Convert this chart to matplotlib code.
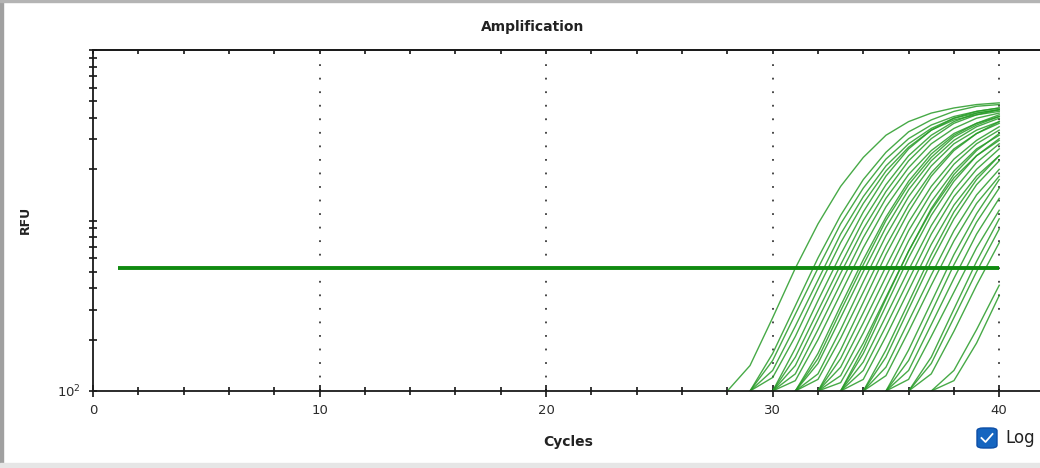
import matplotlib
matplotlib.use("Agg")
import matplotlib.pyplot as plt
from matplotlib.patches import FancyBboxPatch, Rectangle
from matplotlib.ticker import FixedLocator, NullFormatter

# Amplification curves: first cycle of each trace and its RFU readings per cycle
start_cycles = [28,
                29, 29, 29, 29,
                30, 30, 30, 30, 30,
                31, 31, 31, 31, 31,
                32, 32, 32, 32, 32,
                33, 33, 33, 33, 33,
                34, 34, 34, 34,
                35, 35, 35, 35,
                36, 36, 36,
                37, 37]

rfu_curves = [
    [100, 141, 269, 525, 955, 1585, 2344, 3162, 3802, 4266, 4571, 4786, 4898],
    [100, 166, 316, 603, 1072, 1738, 2512, 3311, 3890, 4365, 4677, 4786],
    [100, 151, 282, 525, 955, 1549, 2291, 3020, 3631, 4074, 4365, 4571],
    [100, 132, 240, 447, 832, 1380, 2089, 2818, 3467, 3981, 4266, 4467],
    [100, 120, 209, 398, 741, 1259, 1950, 2692, 3388, 3890, 4169, 4365],
    [100, 178, 339, 631, 1122, 1820, 2630, 3388, 3981, 4365, 4571],
    [100, 158, 295, 550, 1000, 1622, 2399, 3162, 3802, 4266, 4467],
    [100, 141, 263, 490, 891, 1479, 2239, 3020, 3715, 4169, 4467],
    [100, 126, 229, 427, 794, 1349, 2042, 2818, 3467, 3981, 4266],
    [100, 115, 200, 372, 692, 1202, 1862, 2570, 3236, 3715, 4074],
    [100, 166, 316, 589, 1047, 1698, 2455, 3162, 3715, 4169],
    [100, 155, 295, 550, 1000, 1622, 2344, 3090, 3631, 4074],
    [100, 145, 269, 501, 912, 1514, 2239, 2951, 3548, 3981],
    [100, 126, 229, 437, 813, 1380, 2089, 2818, 3388, 3802],
    [100, 117, 204, 380, 708, 1230, 1905, 2630, 3236, 3715],
    [100, 174, 331, 631, 1122, 1820, 2570, 3236, 3802],
    [100, 155, 288, 537, 977, 1585, 2291, 2951, 3548],
    [100, 138, 251, 468, 871, 1445, 2138, 2818, 3388],
    [100, 123, 219, 407, 759, 1288, 1950, 2630, 3162],
    [100, 112, 191, 355, 661, 1148, 1778, 2399, 2951],
    [100, 178, 347, 661, 1175, 1862, 2570, 3236],
    [100, 166, 316, 603, 1072, 1698, 2399, 3020],
    [100, 148, 275, 513, 933, 1514, 2188, 2818],
    [100, 132, 240, 447, 832, 1380, 1995, 2630],
    [100, 117, 209, 389, 724, 1230, 1820, 2399],
    [100, 174, 331, 631, 1122, 1738, 2399],
    [100, 158, 302, 575, 1023, 1622, 2239],
    [100, 138, 257, 479, 871, 1413, 1995],
    [100, 123, 224, 417, 759, 1259, 1820],
    [100, 174, 331, 631, 1096, 1738],
    [100, 151, 288, 550, 977, 1549],
    [100, 132, 245, 457, 832, 1349],
    [100, 117, 209, 380, 692, 1148],
    [100, 158, 302, 575, 1023],
    [100, 145, 269, 501, 891],
    [100, 126, 224, 417, 741],
    [100, 132, 229, 417],
    [100, 115, 191, 363],
]

threshold_rfu = 524
threshold_cycles = [1.1, 40]

x_major = [0, 10, 20, 30, 40]
x_labels = ["0", "10", "20", "30", "40"]
x_minor = [2, 4, 6, 8, 12, 14, 16, 18, 22, 24, 26, 28, 32, 34, 36, 38]

fig = plt.figure(figsize=(10.4, 4.68), dpi=100)
W, H = 1040, 468

# window frame
fig.patches.append(Rectangle((0, 0), 3 / W, 1, transform=fig.transFigure,
                             color="#a0a0a0", zorder=0))
fig.patches.append(Rectangle((0, 0), 1, 5 / H, transform=fig.transFigure,
                             color="#e6e6e6", zorder=0))
fig.patches.append(Rectangle((0, 1 - 2 / H), 1, 2 / H, transform=fig.transFigure,
                             color="#b4b4b4", zorder=0))

left, right, bottom, top = 93, 1040, 391, 50
ax = fig.add_axes([left / W, (H - bottom) / H, (right - left) / W, (bottom - top) / H])

green = "#279b27"
for s, vals in zip(start_cycles, rfu_curves):
    cycles = list(range(s, s + len(vals)))
    ax.plot(cycles, vals, color=green, lw=1.0, alpha=0.85, solid_joinstyle="round")

ax.plot(threshold_cycles, [threshold_rfu, threshold_rfu], color="#108a10", lw=2.8,
        solid_capstyle="butt")

ax.set_yscale("log")
ax.set_ylim(100, 10000)
ax.set_xlim(0, 41.8)

for gx in [10, 20, 30, 40]:
    ax.axvline(gx, color="#3a3a3a", lw=1.3, ls=(0, (1, 6.5)), zorder=1)

# bottom x ticks
ax.xaxis.set_major_locator(FixedLocator(x_major))
ax.set_xticklabels(x_labels)
ax.xaxis.set_minor_locator(FixedLocator(x_minor))
ax.tick_params(axis="x", which="major", direction="inout", length=8, width=1.1,
               labelsize=9.5, labelcolor="#2b2b2b", pad=5)
ax.tick_params(axis="x", which="minor", direction="inout", length=6, width=1.1)

# small inward ticks along the top edge
top_ax = ax.secondary_xaxis("top")
top_ax.xaxis.set_major_locator(FixedLocator(x_minor + x_major))
top_ax.tick_params(axis="x", direction="in", length=3, width=1.1, labeltop=False)
top_ax.spines["top"].set_linewidth(1.3)
top_ax.spines["top"].set_color("#1a1a1a")

ax.yaxis.set_major_locator(FixedLocator([100, 1000, 10000]))
ax.set_yticklabels(["$\\mathregular{10^2}$", "", ""])
ax.yaxis.set_minor_locator(FixedLocator([m * 10 ** e for e in (2, 3) for m in range(2, 10)]))
ax.yaxis.set_minor_formatter(NullFormatter())
ax.tick_params(axis="y", which="both", direction="inout", length=6, width=1.1,
               labelsize=9.5, labelcolor="#2b2b2b", pad=6)

for side in ("left", "bottom", "top"):
    ax.spines[side].set_linewidth(1.3)
    ax.spines[side].set_color("#1a1a1a")
ax.spines["right"].set_visible(False)

fig.text(533 / W, 1 - 27 / H, "Amplification", ha="center", va="center",
         fontsize=10, fontweight="bold", color="#222222")
fig.text(25 / W, 1 - 220 / H, "RFU", ha="center", va="center", rotation=90,
         fontsize=9, fontweight="bold", color="#222222")
fig.text(568 / W, 1 - 442 / H, "Cycles", ha="center", va="center",
         fontsize=10, fontweight="bold", color="#222222")

# "Log" checkbox
box = FancyBboxPatch((977 / W, 1 - 448 / H), 20 / W, 20 / H,
                     boxstyle="round,pad=0,rounding_size=0.006",
                     transform=fig.transFigure, facecolor="#1565c0",
                     edgecolor="#0d4ea6", lw=1)
fig.patches.append(box)
fig.lines.append(plt.Line2D([981.5 / W, 985.5 / W, 992.5 / W],
                            [1 - 438 / H, 1 - 442 / H, 1 - 434 / H],
                            transform=fig.transFigure, color="white", lw=1.3))
fig.text(1005 / W, 1 - 438 / H, "Log", ha="left", va="center", fontsize=12,
         color="#222222")

fig.savefig("out.png", dpi=100)
